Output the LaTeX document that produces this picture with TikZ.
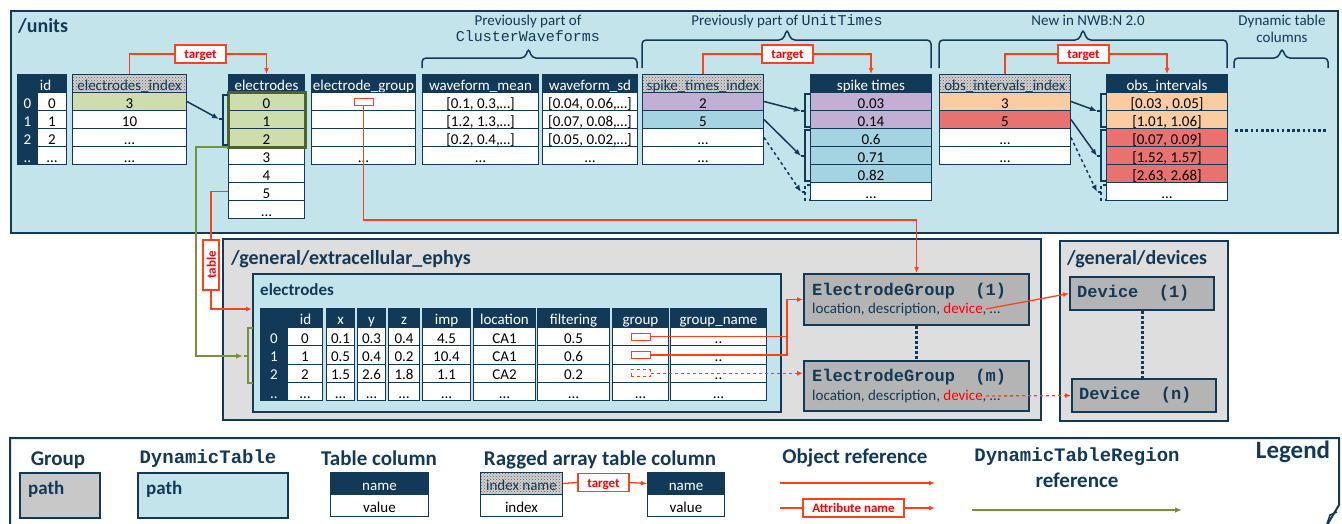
\documentclass[tikz,border=0pt]{standalone}
\usepackage{fontspec}
\setmainfont{Carlito}
\setmonofont{Liberation Mono}
\usetikzlibrary{patterns,arrows.meta}

\definecolor{navy}{RGB}{18,58,88}
\definecolor{lblue}{RGB}{196,228,236}
\definecolor{ggray}{RGB}{222,222,222}
\definecolor{egray}{RGB}{180,180,180}
\definecolor{lgray}{RGB}{200,200,200}
\definecolor{selg}{RGB}{205,221,172}
\definecolor{olived}{RGB}{79,98,40}
\definecolor{olive}{RGB}{118,146,60}
\definecolor{purp}{RGB}{193,176,211}
\definecolor{sblue}{RGB}{164,212,226}
\definecolor{peach}{RGB}{250,204,160}
\definecolor{rcell}{RGB}{232,114,112}
\definecolor{refred}{RGB}{255,64,25}
\definecolor{txtred}{RGB}{255,0,0}
\definecolor{dotgray}{RGB}{90,90,90}

\newcommand\ftab{\fontsize{15}{17}\selectfont}
\newcommand\fsmall{\fontsize{13}{15}\selectfont\bfseries}
\newcommand\fhead{\fontsize{20}{24}\selectfont\bfseries}
\newcommand\fsub{\fontsize{17}{20}\selectfont\bfseries}
\newcommand\flegh{\fontsize{21}{25}\selectfont\bfseries}
\newcommand\flpath{\fontsize{19}{22}\selectfont\bfseries}
\newcommand\flegend{\fontsize{25}{30}\selectfont\bfseries}
\newcommand\fmonoh{\fontsize{19}{22}\selectfont\ttfamily\bfseries}
\newcommand\fmonob{\fontsize{17}{20}\selectfont\ttfamily\bfseries}

\tikzset{
  tcell0/.style={rectangle, inner sep=0pt, anchor=north west, line width=1pt, font=\ftab, text height=13pt, text depth=0pt},
  cell/.style={tcell0, draw=navy, fill=white, text=black},
  hdr/.style={tcell0, draw=navy, fill=navy, text=white},
  dhdr/.style={tcell0, draw=navy, preaction={fill=gray!35}, pattern=crosshatch dots, pattern color=dotgray, text=navy},
  gbox/.style={rectangle, anchor=north west, draw=navy, line width=1.5pt, inner sep=0pt},
  egbox/.style={gbox, fill=egray, line width=2pt},
  txt/.style={inner sep=0pt, text=navy},
  tgt/.style={rectangle, draw=refred, fill=white, line width=1.2pt, text=txtred, font=\fsmall, inner sep=0pt, minimum width=51pt, minimum height=18pt, text height=9.5pt, text depth=0pt},
  smrect/.style={rectangle, draw=refred, fill=white, line width=1pt, minimum width=19pt, minimum height=7pt, inner sep=0pt},
  refline/.style={draw=refred, line width=1.3pt},
  refarrow/.style={refline, -{Latex[length=6pt,width=5pt]}},
  idxarrow/.style={draw=navy, line width=1.5pt, -{Latex[length=7pt,width=5.5pt]}},
  brk/.style={draw=navy, line width=1.5pt},
  brace/.style={draw=navy, line width=1.5pt, rounded corners=4pt},
  dtr/.style={draw=olive, line width=1.5pt},
  dotline/.style={draw=navy, line width=3pt, dash pattern=on 2.5pt off 2.5pt},
}

% name, x, y, width, header style, header text, row height, rows (fill/text)
\newcommand\tcol[8]{%
  \node[#5, minimum width=#4, minimum height=\hh] (#1-h) at (#2,#3) {#6};
  \foreach \cf/\ct [count=\i] in {#8} {
    \node[cell, fill=\cf, minimum width=#4, minimum height=#7] (#1-\i) at (#2,{#3+\hh+#7*(\i-1)}) {\ct};
  }%
}
\newcommand\brkt[5]{%
  \draw[brk,#5] ({#1+5},#2) -- (#1,#2) -- (#1,#3) -- ({#1+5},#3);
  \draw[brk,#5] (#1,#4) -- ({#1-4},#4);
}

\begin{document}
\begin{tikzpicture}[x=1pt,y=-1pt]
\useasboundingbox (0,0) rectangle (1342,523);
\clip (0,0) rectangle (1342,523);

% ---------- group boxes ----------
\node[gbox, fill=lblue, minimum width=1327pt, minimum height=222pt] (units) at (10,10) {};
\node[txt, anchor=base west, font=\fhead] (unitsT) at (18,32) {/units};
\node[gbox, fill=ggray, minimum width=818pt, minimum height=181pt] (ece) at (222,238) {};
\node[txt, anchor=base west, font=\fhead] (eceT) at (231,264) {/general/extracellular\_ephys};
\node[gbox, fill=ggray, minimum width=168pt, minimum height=180pt] (devs) at (1059,240) {};
\node[txt, anchor=base west, font=\fhead] (devsT) at (1067,264) {/general/devices};
\node[gbox, fill=lblue, minimum width=528pt, minimum height=138pt] (elbox) at (252,273) {};
\node[txt, anchor=base west, font=\fsub] (elboxT) at (260,295) {electrodes};

% ---------- annotations ----------
\node[txt, anchor=base, font=\ftab] (a1) at (528,25) {Previously part of};
\node[txt, anchor=base, font=\ftab\ttfamily] (a1m) at (528,41) {ClusterWaveforms};
\node[txt, anchor=base, font=\ftab] (a2) at (787,25) {Previously part of \texttt{UnitTimes}};
\node[txt, anchor=base, font=\ftab] (a3) at (1088,25) {New in NWB:N 2.0};
\node[txt, anchor=base, font=\ftab] (a4) at (1282,25) {Dynamic table};
\node[txt, anchor=base, font=\ftab] (a4b) at (1282,42) {columns};
\draw[brace] (422,68) -- (422,58) -- (525,58) -- (528.5,48) -- (532,58) -- (637,58) -- (637,68);
\draw[brace] (642,68) -- (642,40) -- (783,40) -- (787,29) -- (791,40) -- (931,40) -- (931,68);
\draw[brace] (939,68) -- (939,40) -- (1079,40) -- (1083,29) -- (1087,40) -- (1227,40) -- (1227,68);
\draw[brace] (1234,68) -- (1234,58) -- (1278,58) -- (1282,48) -- (1286,58) -- (1328,58) -- (1328,68);

% ---------- units tables ----------
\def\hh{18}
\node[hdr, minimum width=49pt, minimum height=18pt] (idh) at (17,74) {\hspace*{7pt}id};
\foreach \ct [count=\i] in {0,1,2,..} {
  \node[hdr, minimum width=20pt, minimum height=18pt] (idi-\i) at (17,{74+18*\i}) {\ct};
}
\foreach \ct [count=\i] in {0,1,2,…} {
  \node[cell, minimum width=29pt, minimum height=18pt] (idv-\i) at (37,{74+18*\i}) {\ct};
}
\tcol{ei}{72}{74}{114}{dhdr}{electrodes\_index}{18}{selg/3,white/10,white/…,white/…}
\tcol{el}{228}{74}{76}{hdr}{electrodes}{18}{selg/0,selg/1,selg/2,white/3,white/4,white/5,white/…}
\tcol{eg}{311}{74}{104}{hdr}{electrode\_group}{18}{white/{},white/{},white/{},white/…}
\tcol{wm}{422}{74}{116}{hdr}{waveform\_mean}{18}{white/{[0.1, 0.3,…]},white/{[1.2, 1.3,…]},white/{[0.2, 0.4,…]},white/…}
\tcol{ws}{542}{74}{95}{hdr}{waveform\_sd}{18}{white/{[0.04, 0.06,…]},white/{[0.07, 0.08,…]},white/{[0.05, 0.02,…]},white/…}
\tcol{si}{642}{74}{121}{dhdr}{spike\_times\_index}{18}{purp/2,sblue/5,white/…,white/…}
\tcol{st}{810}{74}{121}{hdr}{spike times}{18}{purp/0.03,purp/0.14,sblue/0.6,sblue/0.71,sblue/0.82,white/…}
\tcol{oi}{939}{74}{131}{dhdr}{obs\_intervals\_index}{18}{peach/3,rcell/5,white/…,white/…}
\tcol{ov}{1106}{74}{121}{hdr}{obs\_intervals}{18}{peach/{[0.03 , 0.05]},peach/{[1.01, 1.06]},rcell/{[0.07, 0.09]},rcell/{[1.52, 1.57]},rcell/{[2.63, 2.68]},white/…}
\draw[navy, line width=3pt, dash pattern=on 2.5pt off 2.7pt] (1235,130) -- (1327,130);
\draw[olived, line width=3pt] (el-1.north west) rectangle (el-3.south east);

% ---------- extracellular electrodes table ----------
\def\hh{19}
\node[hdr, minimum width=62pt, minimum height=19pt] (xi-h) at (260,308) {\hspace*{28pt}id};
\foreach \ct [count=\i] in {0,1,2,..} {
  \node[hdr, minimum width=27pt, minimum height=18.3pt] (xi-\i) at (260,{327+18.3*(\i-1)}) {\ct};
}
\foreach \ct [count=\i] in {0,1,2,…} {
  \node[cell, minimum width=35pt, minimum height=18.3pt] (xid-\i) at (287,{327+18.3*(\i-1)}) {\ct};
}
\tcol{xx}{326}{308}{28}{hdr}{x}{18.3}{white/0.1,white/0.5,white/1.5,white/…}
\tcol{xy}{357}{308}{28}{hdr}{y}{18.3}{white/0.3,white/0.4,white/2.6,white/…}
\tcol{xz}{388}{308}{31}{hdr}{z}{18.3}{white/0.4,white/0.2,white/1.8,white/…}
\tcol{xim}{422}{308}{48}{hdr}{imp}{18.3}{white/4.5,white/10.4,white/1.1,white/…}
\tcol{xl}{473}{308}{62}{hdr}{location}{18.3}{white/CA1,white/CA1,white/CA2,white/…}
\tcol{xf}{537}{308}{72}{hdr}{filtering}{18.3}{white/0.5,white/0.6,white/0.2,white/…}
\tcol{gp}{612}{308}{56}{hdr}{group}{18.3}{white/{},white/{},white/{},white/…}
\tcol{gn}{670}{308}{96}{hdr}{group\_name}{18.3}{white/..,white/..,white/..,white/…}

% ---------- ElectrodeGroups and Devices ----------
\node[egbox, minimum width=225pt, minimum height=51pt] (eg1) at (803,273) {};
\node[txt, anchor=base west, font=\fmonob] (eg1a) at (812,295) {ElectrodeGroup~~(1)};
\node[txt, anchor=base west, font=\ftab] (eg1b) at (812,313) {location, description, \textcolor{txtred}{device}, …};
\node[egbox, minimum width=225pt, minimum height=50pt] (eg2) at (803,360) {};
\node[txt, anchor=base west, font=\fmonob] (eg2a) at (812,381) {ElectrodeGroup~~(m)};
\node[txt, anchor=base west, font=\ftab] (eg2b) at (812,400) {location, description, \textcolor{txtred}{device}, …};
\node[egbox, minimum width=144pt, minimum height=33pt] (d1) at (1069,276) {};
\node[txt, anchor=base west, font=\fmonob] (d1a) at (1077,297) {Device~~(1)};
\node[egbox, minimum width=144pt, minimum height=33pt] (dn) at (1071,378) {};
\node[txt, anchor=base west, font=\fmonob] (dna) at (1079,399) {Device~~(n)};
\draw[dotline] (eg1.south) -- (eg2.north);
\draw[dotline] (d1.south) -- (d1.south |- dn.north);

% ---------- index brackets and arrows ----------
\brkt{223}{95}{145}{119}{}
\coordinate (b1) at (219,119);
\draw[idxarrow] (ei-1.east) -- (b1);
\brkt{805}{94}{127}{111}{}
\brkt{805}{130}{181}{156}{}
\brkt{805}{185}{200}{192}{dashed}
\coordinate (bs1) at (801,111);
\coordinate (bs2) at (801,156);
\coordinate (bs3) at (801,192);
\draw[idxarrow] (si-1.east) -- (bs1);
\draw[idxarrow] (si-2.east) -- (bs2);
\draw[idxarrow, dashed] (si-3.east) -- (bs3);
\brkt{1101}{94}{127}{111}{}
\brkt{1101}{130}{181}{156}{}
\brkt{1101}{185}{200}{192}{dashed}
\coordinate (bo1) at (1097,111);
\coordinate (bo2) at (1097,156);
\coordinate (bo3) at (1097,192);
\draw[idxarrow] (oi-1.east) -- (bo1);
\draw[idxarrow] (oi-2.east) -- (bo2);
\draw[idxarrow, dashed] (oi-3.east) -- (bo3);

% ---------- target labels ----------
\node[tgt] (t1) at (200.5,54) {target};
\draw[refline] (ei-h.north) |- (t1.west);
\draw[refarrow] (t1.east) -| (el-h.north);
\node[tgt] (t2) at (787.5,54) {target};
\draw[refline] (si-h.north) |- (t2.west);
\draw[refarrow] (t2.east) -| (st-h.north);
\node[tgt] (t3) at (1083.5,54) {target};
\draw[refline] (oi-h.north) |- (t3.west);
\draw[refarrow] (t3.east) -| (ov-h.north);

% ---------- DynamicTableRegion (olive) ----------
\brkt{248}{328}{383}{356}{dtr}
\coordinate (bg) at (243,356);
\coordinate (cg) at (196,356);
\draw[dtr, -{Latex[length=7pt,width=5.5pt]}] (el-3.south west) -| (cg) -- (bg);

% ---------- object references (red) ----------
\node[smrect] (egr) at (eg-1.center) {};
\coordinate (c220) at (0,220);
\draw[refarrow] (egr.south) -- (egr.south |- c220) -| (eg1.north);

\node[tgt, rotate=90, minimum width=50pt, minimum height=16pt] (tbl) at (211,265) {table};
\coordinate (c309) at (0,309);
\draw[refline] (el-6.west) -| (tbl.east);
\draw[refarrow] (tbl.west) |- (elbox.west |- c309);

\node[smrect] (gr1) at (gp-1.center) {};
\node[smrect] (gr2) at (gp-2.center) {};
\node[smrect, dashed] (gr3) at (gp-3.center) {};
\coordinate (jn) at (787,0);
\draw[refline] (gr1.east) -- (gr1.east -| jn);
\draw[refarrow] (gr2.east) -| (jn |- eg1.west) -- (eg1.west);
\draw[refarrow, dashed] (gr3.east) -- (gr3.east -| eg2.west);

\coordinate (dv1) at (986,309);
\draw[refarrow] (dv1) -- (d1.west);
\coordinate (dv2) at (986,396);
\draw[refarrow, dashed] (dv2) -- (dn.west);

% ---------- legend ----------
\draw[navy, line width=2pt] (10,530) -- (10,438) -- (1339,438) -- (1339,505) -- (1327,525);
\draw[navy, line width=1.5pt] (1327,524) -- (1330,515) -- (1337,512);
\node[txt, anchor=base, font=\flegh] (lgT) at (58,465) {Group};
\node[gbox, fill=lgray, minimum width=80pt, minimum height=45pt] (lg) at (19,472) {};
\node[txt, anchor=base west, font=\flpath] (lgp) at (28,494) {path};
\node[txt, anchor=base, font=\fmonoh] (ldT) at (208,463) {DynamicTable};
\node[gbox, fill=lblue, minimum width=150pt, minimum height=45pt] (ld) at (137,472) {};
\node[txt, anchor=base west, font=\flpath] (ldp) at (146,494) {path};
\node[txt, anchor=base, font=\flegh] (lcT) at (379,465) {Table column};
\node[hdr, minimum width=98pt, minimum height=22pt] (lc-h) at (330,472) {name};
\node[cell, minimum width=98pt, minimum height=22pt] (lc-1) at (330,494) {value};
\node[txt, anchor=base, font=\flegh] (lrT) at (600,465) {Ragged array table column};
\node[dhdr, minimum width=82pt, minimum height=22pt] (li-h) at (480,472) {index name};
\node[cell, minimum width=82pt, minimum height=22pt] (li-1) at (480,494) {index};
\node[tgt] (lt) at (603.5,482.5) {target};
\node[hdr, minimum width=77pt, minimum height=22pt] (ln-h) at (647,472) {name};
\node[cell, minimum width=77pt, minimum height=22pt] (ln-1) at (647,494) {value};
\draw[refline] (li-h.east) -- (lt.west);
\draw[refarrow] (lt.east) -- (ln-h.west);

\node[txt, anchor=base, font=\flegh] (loT) at (855,463) {Object reference};
\coordinate (o1a) at (780,483);
\coordinate (o1b) at (935,483);
\draw[refarrow] (o1a) -- (o1b);
\node[tgt, minimum width=101pt] (an) at (853.5,508) {Attribute name};
\coordinate (o2a) at (780,508);
\coordinate (o2b) at (935,508);
\draw[refline] (o2a) -- (an.west);
\draw[refarrow] (an.east) -- (o2b);
\node[txt, anchor=base, font=\fmonoh] (lrgT) at (1077,461) {DynamicTableRegion};
\node[txt, anchor=base, font=\flegh] (lrgT2) at (1077,487) {reference};
\coordinate (g1a) at (972,510);
\coordinate (g1b) at (1182,510);
\draw[dtr, -{Latex[length=7pt,width=5.5pt]}] (g1a) -- (g1b);
\node[txt, anchor=base, font=\flegend] (lgd) at (1293,458) {Legend};
\end{tikzpicture}
\end{document}
